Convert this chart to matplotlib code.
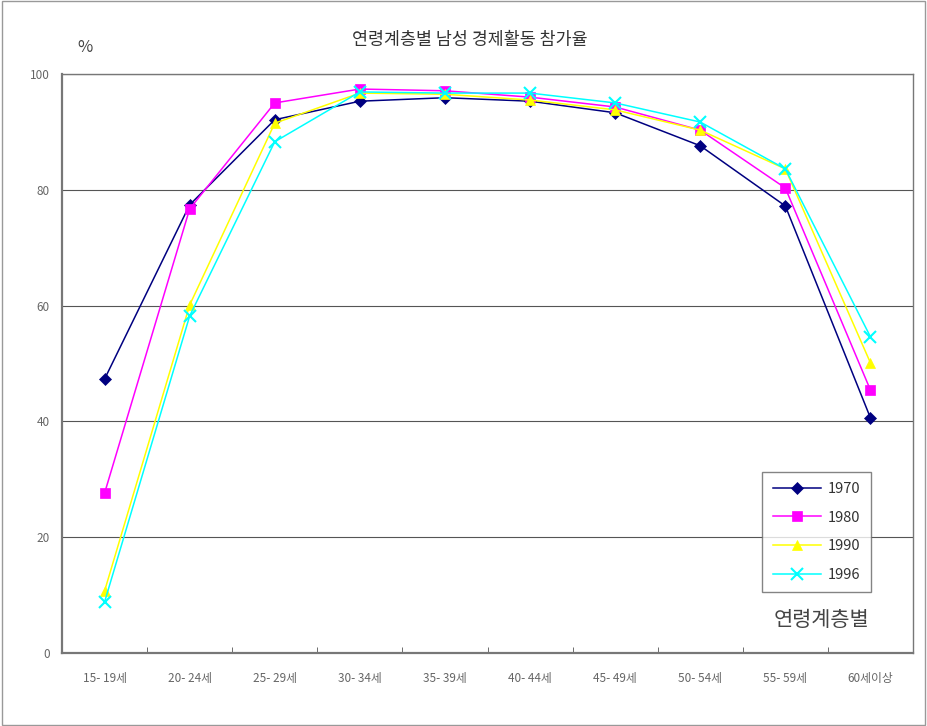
import matplotlib.pyplot as plt
import numpy as np
from matplotlib.patches import Rectangle

plt.rcParams['font.family'] = ['Noto Sans CJK KR', 'DejaVu Sans']

ages = ['15- 19세', '20- 24세', '25- 29세', '30- 34세', '35- 39세',
        '40- 44세', '45- 49세', '50- 54세', '55- 59세', '60세이상']
years = ['1970', '1980', '1990', '1996']
v1970 = [47.3, 77.4, 92.1, 95.3, 95.9, 95.3, 93.3, 87.6, 77.2, 40.6]
v1980 = [27.6, 76.7, 95.0, 97.4, 97.1, 96.0, 94.3, 90.3, 80.3, 45.4]
v1990 = [10.7, 60.1, 91.5, 96.7, 96.5, 95.5, 93.8, 90.3, 83.6, 50.1]
v1996 = [8.8, 58.2, 88.3, 96.9, 96.7, 96.7, 95.0, 91.7, 83.6, 54.6]

series = [v1970, v1980, v1990, v1996]
colors = ['#000080', '#ff00ff', '#ffff00', '#00ffff']
markers = ['D', 's', '^', 'x']
msizes = [6, 7, 7, 8]

fig = plt.figure(figsize=(9.27, 7.26), dpi=100)
ax = fig.add_axes([0.0669, 0.1006, 0.918, 0.7975])

x = np.arange(len(ages))
for vals, c, m, ms, lab in zip(series, colors, markers, msizes, years):
    ax.plot(x, vals, color=c, marker=m, markersize=ms, linewidth=1.1,
            markeredgewidth=1.5 if m == 'x' else 0.5, label=lab)

ax.set_xlim(-0.5, len(ages) - 0.5)
ax.set_ylim(0, 100)
ax.set_yticks([0, 20, 40, 60, 80, 100])
ax.yaxis.grid(True, color='#555555', linewidth=0.8)
ax.set_axisbelow(True)
ax.set_xticks(x)
ax.set_xticklabels(ages, fontsize=8.5, color='#666666')
ax.set_xticks(np.arange(-0.5, len(ages)), minor=True)
ax.tick_params(axis='x', which='major', length=0, pad=14)
ax.tick_params(axis='x', which='minor', length=4, direction='in', color='#555555')
ax.tick_params(axis='y', length=0, labelsize=8.5, labelcolor='#666666', pad=9)
for s in ax.spines.values():
    s.set_color('#777777')
    s.set_linewidth(1.0)
ax.spines['left'].set_linewidth(1.6)
ax.spines['bottom'].set_linewidth(1.6)

fig.text(0.507, 0.945, '연령계층별 남성 경제활동 참가율', ha='center', va='center',
         fontsize=12.5, color='#333333')
fig.text(0.092, 0.934, '%', ha='center', va='center', fontsize=12, color='#444444')
ax.text(0.893, 0.057, '연령계층별', transform=ax.transAxes, ha='center', va='center',
        fontsize=15, color='#444444')

leg = ax.legend(loc='upper left', bbox_to_anchor=(0.823, 0.313), frameon=True,
                fancybox=False, edgecolor='#666666', fontsize=10.5,
                handlelength=3.3, borderpad=0.7, labelspacing=1.0,
                handletextpad=0.5, borderaxespad=0)
leg.get_frame().set_linewidth(1.0)
for t in leg.get_texts():
    t.set_color('#333333')

fig.patches.append(Rectangle((0.002, 0.002), 0.996, 0.996, transform=fig.transFigure,
                             fill=False, edgecolor='#999999', linewidth=1.0))

fig.savefig('out.png', dpi=100)
